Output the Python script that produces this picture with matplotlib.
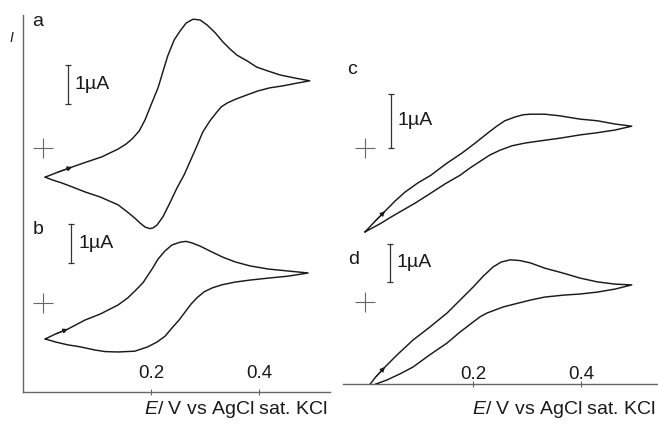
import matplotlib
matplotlib.use("Agg")
import matplotlib.pyplot as plt

plt.rcParams["font.family"] = ["Liberation Sans", "DejaVu Sans"]
plt.rcParams["mathtext.fontset"] = "custom"
plt.rcParams["mathtext.it"] = "Liberation Sans:italic"
plt.rcParams["mathtext.rm"] = "Liberation Sans"

# cyclic voltammograms, E in V vs AgCl, I in uA (zero at the + marks)
a_fwd_E = [0.004, 0.028, 0.054, 0.081, 0.109, 0.139, 0.154, 0.165, 0.178, 0.189,
           0.200, 0.213, 0.222, 0.231, 0.243, 0.254, 0.265, 0.278, 0.291, 0.304,
           0.319, 0.333, 0.346, 0.359, 0.378, 0.396, 0.417, 0.439, 0.467, 0.494]
a_fwd_I = [-0.76, -0.63, -0.50, -0.37, -0.24, -0.04, 0.09, 0.22, 0.42, 0.71,
           1.09, 1.53, 1.94, 2.35, 2.76, 2.99, 3.19, 3.29, 3.27, 3.14,
           2.94, 2.71, 2.53, 2.37, 2.22, 2.06, 1.96, 1.86, 1.78, 1.71]
a_rev_E = [0.494, 0.470, 0.444, 0.420, 0.398, 0.378, 0.357, 0.341, 0.330, 0.322,
           0.309, 0.296, 0.285, 0.272, 0.261, 0.248, 0.235, 0.222, 0.211, 0.204,
           0.198, 0.189, 0.180, 0.170, 0.156, 0.139, 0.106, 0.078, 0.054, 0.035,
           0.017, 0.004]
a_rev_I = [1.71, 1.65, 1.58, 1.53, 1.45, 1.35, 1.24, 1.14, 1.04, 0.91,
           0.68, 0.40, 0.04, -0.37, -0.71, -1.04, -1.42, -1.78, -1.99, -2.06,
           -2.08, -2.04, -1.94, -1.81, -1.65, -1.47, -1.27, -1.14, -1.01, -0.91,
           -0.83, -0.76]

b_fwd_E = [0.004, 0.024, 0.046, 0.078, 0.106, 0.139, 0.157, 0.170, 0.185, 0.202,
           0.213, 0.226, 0.239, 0.254, 0.265, 0.276, 0.291, 0.313, 0.333, 0.356,
           0.383, 0.417, 0.454, 0.491]
b_fwd_I = [-0.91, -0.78, -0.66, -0.43, -0.28, -0.05, 0.13, 0.30, 0.51, 0.86,
           1.11, 1.32, 1.47, 1.54, 1.56, 1.52, 1.44, 1.29, 1.16, 1.04,
           0.94, 0.86, 0.81, 0.76]
b_rev_E = [0.491, 0.454, 0.417, 0.383, 0.356, 0.331, 0.313, 0.298, 0.285, 0.274,
           0.263, 0.252, 0.239, 0.226, 0.211, 0.194, 0.170, 0.139, 0.115, 0.096,
           0.069, 0.046, 0.024, 0.004]
b_rev_I = [0.76, 0.68, 0.63, 0.58, 0.53, 0.46, 0.38, 0.28, 0.13, -0.03,
           -0.23, -0.43, -0.63, -0.84, -0.99, -1.11, -1.22, -1.24, -1.23, -1.19,
           -1.11, -1.06, -0.99, -0.91]

c_fwd_E = [0.0, 0.019, 0.037, 0.056, 0.074, 0.098, 0.122, 0.150, 0.180, 0.204,
           0.228, 0.244, 0.259, 0.278, 0.293, 0.306, 0.333, 0.361, 0.398, 0.430,
           0.463, 0.494]
c_fwd_I = [-1.54, -1.34, -1.16, -0.97, -0.81, -0.64, -0.50, -0.29, -0.09, 0.09,
           0.28, 0.40, 0.50, 0.57, 0.61, 0.62, 0.62, 0.59, 0.53, 0.50,
           0.44, 0.40]
c_rev_E = [0.494, 0.463, 0.430, 0.398, 0.361, 0.324, 0.296, 0.272, 0.250, 0.231,
           0.217, 0.194, 0.176, 0.148, 0.120, 0.093, 0.065, 0.046, 0.028, 0.013,
           0.0]
c_rev_I = [0.40, 0.33, 0.28, 0.24, 0.18, 0.13, 0.09, 0.04, -0.04, -0.13,
           -0.22, -0.37, -0.50, -0.66, -0.84, -1.01, -1.17, -1.28, -1.39, -1.47,
           -1.54]

d_fwd_E = [0.004, 0.020, 0.037, 0.061, 0.089, 0.120, 0.152, 0.176, 0.200, 0.219,
           0.237, 0.252, 0.269, 0.287, 0.306, 0.333, 0.367, 0.398, 0.430, 0.463,
           0.494]
d_fwd_I = [-2.26, -1.97, -1.71, -1.37, -1.00, -0.66, -0.29, 0.05, 0.39, 0.68,
           0.92, 1.05, 1.11, 1.09, 1.03, 0.89, 0.76, 0.63, 0.53, 0.47,
           0.45]
d_rev_E = [0.494, 0.463, 0.430, 0.398, 0.367, 0.333, 0.306, 0.278, 0.256, 0.241,
           0.226, 0.213, 0.200, 0.176, 0.152, 0.120, 0.089, 0.065, 0.041, 0.020,
           0.004]
d_rev_I = [0.45, 0.34, 0.26, 0.21, 0.18, 0.13, 0.05, -0.05, -0.13, -0.21,
           -0.29, -0.39, -0.53, -0.79, -1.08, -1.39, -1.71, -1.89, -2.05, -2.16,
           -2.26]

panel_names = ["a", "b", "c", "d"]
scale_bar_bottom = [1.12, 1.01, 0.0, 0.53]   # uA
scale_bar_E = [0.046, 0.052, 0.048, 0.046]  # V
x_ticks = [0.2, 0.4]
x_label = "$E$/ V vs AgCl sat. KCl"

W, H = 658, 424
INK = "#1a1a1a"
GREY = "#666666"

fig = plt.figure(figsize=(W / 100, H / 100), dpi=100)


def px_axes(left, right, top, bottom):
    ax = fig.add_axes([left / W, 1 - bottom / H, (right - left) / W, (bottom - top) / H])
    ax.patch.set_alpha(0)
    for s in ax.spines.values():
        s.set_visible(False)
    ax.set_xticks([])
    ax.set_yticks([])
    return ax


def fig_text(x, y, s, **kw):
    fig.text(x / W, 1 - y / H, s, **kw)


# column layout in pixels: (left, right, top, bottom, x of 0 V)
columns = [(23, 330, 15, 392, 43), (343, 658, 15, 384, 365)]
PX_PER_V = 540
# per panel: column index, pixel row of zero current, pixels per uA
panel_layout = [(0, 147.5, 39.0), (0, 303, 39.5), (1, 148, 54.5), (1, 302, 38.0)]
curves = [
    (a_fwd_E, a_fwd_I, a_rev_E, a_rev_I),
    (b_fwd_E, b_fwd_I, b_rev_E, b_rev_I),
    (c_fwd_E, c_fwd_I, c_rev_E, c_rev_I),
    (d_fwd_E, d_fwd_I, d_rev_E, d_rev_I),
]

for col, (l, r, t, b, x0) in enumerate(columns):
    ax = px_axes(l, r, t, b)
    ax.set_xlim((l - x0) / PX_PER_V, (r - x0) / PX_PER_V)
    ax.spines["bottom"].set_visible(True)
    ax.spines["bottom"].set_color(GREY)
    ax.spines["bottom"].set_linewidth(1.0)
    if col == 0:
        ax.spines["left"].set_visible(True)
        ax.spines["left"].set_color(GREY)
        ax.spines["left"].set_linewidth(1.0)
    ax.set_xticks(x_ticks)
    ax.tick_params(axis="x", direction="inout", length=5, width=0.8, color=GREY,
                   labelbottom=False)
    lift = 13 if col == 0 else 6.5
    for tv in x_ticks:
        ax.annotate(f"{tv:.1f}", xy=(tv, 0), xycoords=("data", "axes fraction"),
                    xytext=(0, lift), textcoords="offset points",
                    ha="center", va="center", fontsize=13.5, color=INK)

for i, name in enumerate(panel_names):
    col, zero_y, scale = panel_layout[i]
    l, r, t, b, x0 = columns[col]
    ax = px_axes(l, r, t, b)
    ax.set_xlim((l - x0) / PX_PER_V, (r - x0) / PX_PER_V)
    ax.set_ylim((zero_y - b) / scale, (zero_y - t) / scale)
    fE, fI, rE, rI = curves[i]
    ax.plot(fE + rE[1:], fI + rI[1:], color=INK, lw=1.05,
            solid_joinstyle="round", solid_capstyle="round")
    ax.annotate("", xy=(fE[2], fI[2]), xytext=(fE[1], fI[1]),
                arrowprops=dict(arrowstyle="-|>", color=INK, lw=0.8,
                                mutation_scale=7, shrinkA=0, shrinkB=0))
    # zero-current crosshair
    ax.plot([0], [0], marker="+", ms=14, mew=0.8, color=GREY)
    # 1 uA scale bar
    y0 = scale_bar_bottom[i]
    ax.errorbar([scale_bar_E[i]], [y0 + 0.5], yerr=[0.5], fmt="none",
                ecolor="#333333", elinewidth=0.9, capsize=2.2, capthick=0.9)
    ax.annotate("1\u00b5A", xy=(scale_bar_E[i], y0 + 0.5), xytext=(5, 0),
                textcoords="offset points", ha="left", va="center",
                fontsize=14, color=INK)

# panel letters
for name, (x, y) in zip(panel_names, [(38, 22), (38, 229), (352, 70), (354, 259)]):
    fig_text(x, y, name, ha="center", va="center", fontsize=14, color=INK)

fig_text(11, 38, "I", ha="center", va="center", fontsize=10, style="italic", color=INK)
fig_text(328, 409, x_label, ha="right", va="center", fontsize=14, color=INK)
fig_text(656, 409, x_label, ha="right", va="center", fontsize=14, color=INK)

fig.savefig("out.png", dpi=100)
